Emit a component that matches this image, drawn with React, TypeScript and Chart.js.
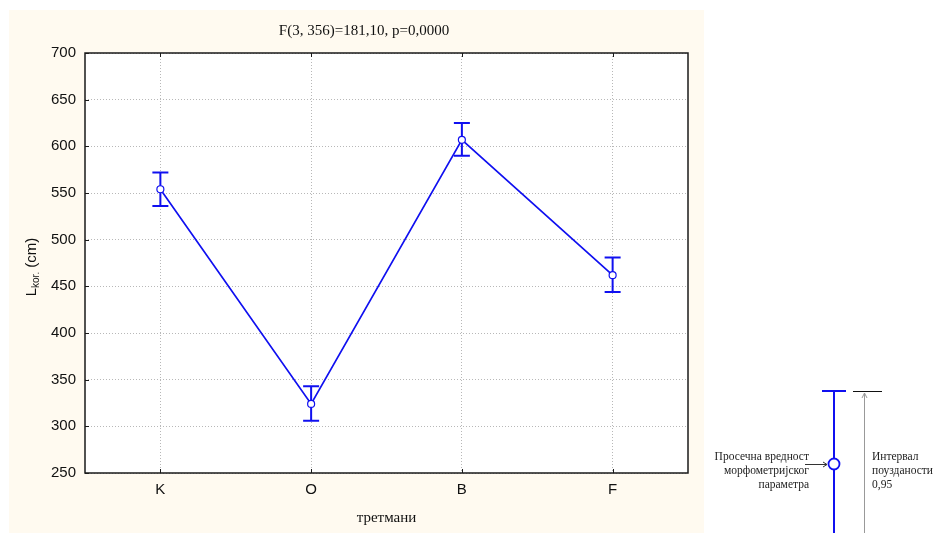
import React, { useEffect, useRef } from 'react';
import { Chart, registerables } from 'chart.js';

Chart.register(...registerables);

// ---- data ----
const categories = ['K', 'O', 'B', 'F'];
const meanValues = [554, 324, 607, 462];
const upperCI = [572, 343, 625, 481];
const lowerCI = [536, 306, 590, 444];
const yMin = 250;
const yMax = 700;
const yStep = 50;

// ---- texts ----
const titleText = 'F(3, 356)=181,10, p=0,0000';
const xAxisTitle = 'третмани';
const yLabelMain = 'L';
const yLabelSub = 'kor.';
const yLabelUnit = ' (cm)';
const legendMeanLines = ['Просечна вредност', 'морфометријског', 'параметра'];
const legendCILines = ['Интервал', 'поузданости', '0,95'];

// ---- styles ----
const BLUE = '#1010f0';
const CREAM = '#fffaf0';
const SANS = '"Liberation Sans", Arial, sans-serif';
const SERIF = '"Liberation Serif", "Times New Roman", serif';

const decorPlugin = {
  id: 'decor',
  beforeDraw(chart: any) {
    const ctx = chart.ctx;
    const { left, top, right, bottom } = chart.chartArea;
    ctx.save();
    ctx.fillStyle = '#ffffff';
    ctx.fillRect(0, 0, chart.width, chart.height);
    ctx.fillStyle = CREAM;
    ctx.fillRect(9, 10, 695, chart.height - 10);
    ctx.fillStyle = '#ffffff';
    ctx.fillRect(left, top, right - left, bottom - top);
    ctx.restore();
  },
  beforeDatasetsDraw(chart: any) {
    const ctx = chart.ctx;
    const xs = chart.scales.x;
    const ys = chart.scales.y;
    ctx.save();
    ctx.strokeStyle = BLUE;
    ctx.lineWidth = 2;
    const cap = 8;
    for (let i = 0; i < categories.length; i++) {
      const x = xs.getPixelForValue(i);
      const yu = ys.getPixelForValue(upperCI[i]);
      const yl = ys.getPixelForValue(lowerCI[i]);
      ctx.beginPath();
      ctx.moveTo(x, yu);
      ctx.lineTo(x, yl);
      ctx.moveTo(x - cap, yu);
      ctx.lineTo(x + cap, yu);
      ctx.moveTo(x - cap, yl);
      ctx.lineTo(x + cap, yl);
      ctx.stroke();
    }
    ctx.restore();
  },
  afterDraw(chart: any) {
    const ctx = chart.ctx;
    const { left, top, right, bottom } = chart.chartArea;
    const xs = chart.scales.x;
    const ys = chart.scales.y;
    ctx.save();
    // frame
    ctx.strokeStyle = '#1a1a1a';
    ctx.lineWidth = 1.5;
    ctx.strokeRect(left, top, right - left, bottom - top);
    // inner tick marks
    ctx.lineWidth = 1;
    ctx.beginPath();
    ys.ticks.forEach((t: any) => {
      const y = Math.round(ys.getPixelForValue(t.value)) + 0.5;
      ctx.moveTo(left, y);
      ctx.lineTo(left + 4, y);
    });
    for (let i = 0; i < categories.length; i++) {
      const x = Math.round(xs.getPixelForValue(i)) + 0.5;
      ctx.moveTo(x, top);
      ctx.lineTo(x, top + 4);
      ctx.moveTo(x, bottom);
      ctx.lineTo(x, bottom - 4);
    }
    ctx.stroke();

    // title
    ctx.fillStyle = '#111';
    ctx.font = `15px ${SERIF}`;
    ctx.textAlign = 'center';
    ctx.textBaseline = 'middle';
    ctx.fillText(titleText, 364, 31);

    // y label with subscript
    ctx.save();
    ctx.translate(31, (top + bottom) / 2 + 4);
    ctx.rotate(-Math.PI / 2);
    const mainFont = `15px ${SANS}`;
    const subFont = `10px ${SANS}`;
    ctx.font = mainFont;
    const wMain = ctx.measureText(yLabelMain).width;
    const wUnit = ctx.measureText(yLabelUnit).width;
    ctx.font = subFont;
    const wSub = ctx.measureText(yLabelSub).width;
    const total = wMain + wSub + wUnit;
    let cx = -total / 2;
    ctx.textAlign = 'left';
    ctx.textBaseline = 'alphabetic';
    ctx.font = mainFont;
    ctx.fillText(yLabelMain, cx, 5);
    cx += wMain;
    ctx.font = subFont;
    ctx.fillText(yLabelSub, cx, 8);
    cx += wSub;
    ctx.font = mainFont;
    ctx.fillText(yLabelUnit, cx, 5);
    ctx.restore();

    // ---- explanatory legend on the right ----
    const lx = 834;
    const capY = 391;
    const cy = 464;
    ctx.strokeStyle = BLUE;
    ctx.lineWidth = 2;
    ctx.beginPath();
    ctx.moveTo(lx, capY);
    ctx.lineTo(lx, chart.height);
    ctx.moveTo(lx - 12, capY);
    ctx.lineTo(lx + 12, capY);
    ctx.stroke();
    ctx.beginPath();
    ctx.arc(lx, cy, 5.5, 0, Math.PI * 2);
    ctx.fillStyle = '#ffffff';
    ctx.fill();
    ctx.lineWidth = 1.8;
    ctx.stroke();

    // black reference line for CI top
    ctx.strokeStyle = '#111';
    ctx.lineWidth = 1;
    ctx.beginPath();
    ctx.moveTo(853, capY + 0.5);
    ctx.lineTo(882, capY + 0.5);
    ctx.stroke();
    // gray arrow up
    ctx.strokeStyle = '#999';
    ctx.beginPath();
    ctx.moveTo(864.5, capY + 2);
    ctx.lineTo(864.5, chart.height);
    ctx.moveTo(862, capY + 7);
    ctx.lineTo(864.5, capY + 2);
    ctx.lineTo(867, capY + 7);
    ctx.stroke();
    // black arrow to mean
    ctx.strokeStyle = '#333';
    ctx.beginPath();
    ctx.moveTo(805, cy + 0.5);
    ctx.lineTo(827, cy + 0.5);
    ctx.moveTo(823, cy - 2);
    ctx.lineTo(827, cy + 0.5);
    ctx.lineTo(823, cy + 3);
    ctx.stroke();

    ctx.fillStyle = '#222';
    ctx.font = `11.5px ${SERIF}`;
    ctx.textBaseline = 'middle';
    ctx.textAlign = 'right';
    legendMeanLines.forEach((s, i) => ctx.fillText(s, 809, 457 + i * 14));
    ctx.textAlign = 'left';
    legendCILines.forEach((s, i) => ctx.fillText(s, 872, 457 + i * 14));

    ctx.restore();
  },
};

export default function App() {
  const ref = useRef<HTMLCanvasElement | null>(null);

  useEffect(() => {
    if (!ref.current) return;
    const chart = new Chart(ref.current, {
      type: 'line',
      data: {
        labels: categories,
        datasets: [
          {
            data: meanValues,
            borderColor: BLUE,
            borderWidth: 1.7,
            pointRadius: 3.5,
            pointBorderWidth: 1.2,
            pointBackgroundColor: '#ffffff',
            pointBorderColor: BLUE,
            tension: 0,
          },
        ],
      },
      options: {
        responsive: false,
        animation: false,
        events: [],
        layout: { padding: { top: 53, left: 0, right: 245, bottom: 0 } },
        plugins: {
          legend: { display: false },
          tooltip: { enabled: false },
          title: { display: false },
        },
        scales: {
          x: {
            type: 'category',
            offset: true,
            afterFit: (s: any) => {
              s.height = 60;
            },
            grid: {
              display: true,
              drawTicks: false,
              color: '#b8b8b8',
              lineWidth: 1,
            },
            border: { display: false, dash: [1, 2] },
            ticks: {
              padding: 8,
              color: '#111',
              font: { family: SANS, size: 15 },
            },
            title: {
              display: true,
              text: xAxisTitle,
              color: '#111',
              font: { family: SERIF, size: 15 },
              padding: { top: 0, bottom: 6 },
            },
          },
          y: {
            min: yMin,
            max: yMax,
            afterFit: (s: any) => {
              s.width = 85;
            },
            grid: {
              drawTicks: false,
              color: '#b8b8b8',
              lineWidth: 1,
            },
            border: { display: false, dash: [1, 2] },
            ticks: {
              stepSize: yStep,
              padding: 9,
              color: '#111',
              font: { family: SANS, size: 15 },
            },
          },
        },
      },
      plugins: [decorPlugin],
    } as any);
    return () => chart.destroy();
  }, []);

  return (
    <div style={{ position: 'absolute', left: 0, top: 0, width: 933, height: 533 }}>
      <canvas ref={ref} width={933} height={533} style={{ display: 'block', width: 933, height: 533 }} />
    </div>
  );
}
